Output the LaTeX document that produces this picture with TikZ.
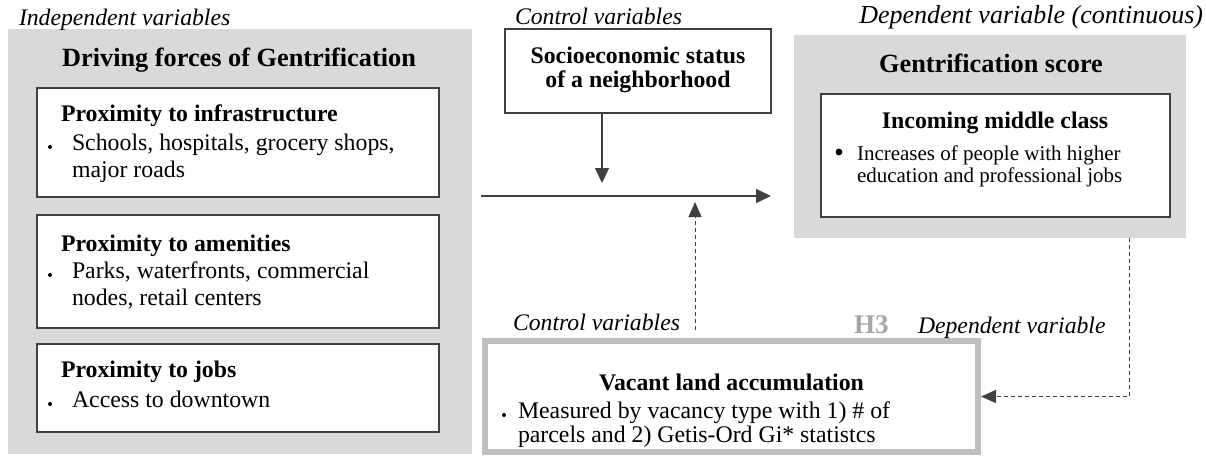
\documentclass[tikz,border=0pt]{standalone}
\usepackage{fontspec}
\setmainfont{Liberation Serif}
\usetikzlibrary{arrows.meta,calc}
\definecolor{panel}{HTML}{D9D9D9}
\definecolor{edge}{HTML}{404040}
\definecolor{frameg}{HTML}{BFBFBF}
\definecolor{hlabel}{HTML}{A6A6A6}
\begin{document}
\begin{tikzpicture}[x=1pt,y=-1pt,
  panelbox/.style={rectangle,fill=panel,draw=none,inner sep=0pt,outer sep=0pt},
  itembox/.style={rectangle,fill=white,draw=edge,line width=1.3pt,inner sep=0pt},
  vacbox/.style={rectangle,fill=white,draw=frameg,line width=6pt,inner sep=0pt},
  txt/.style={inner sep=0pt,outer sep=0pt},
  bigtitle/.style={txt,anchor=base,font=\fontsize{26.3}{30}\selectfont\bfseries},
  subhead/.style={txt,font=\fontsize{23.8}{27}\selectfont\bfseries},
  body/.style={txt,anchor=base west,font=\fontsize{23.8}{27}\selectfont},
  smallbody/.style={txt,anchor=base west,font=\fontsize{21}{22}\selectfont},
  varlabel/.style={txt,font=\fontsize{23.7}{27}\selectfont\itshape},
  conn/.style={draw=edge,line width=1.3pt,-{Triangle[length=15pt,width=14pt]}},
  dconn/.style={draw=edge,line width=1pt,dash pattern=on 4pt off 3pt,
    -{Triangle[length=15pt,width=13pt]}},
  dot/.style={fill=black}]
\useasboundingbox (0,0) rectangle (1206,456);

% --- independent variables panel
\node[panelbox,minimum width=464pt,minimum height=425pt] (drivers) at (240,241.5) {};
\node[varlabel,anchor=base west] (indep) at (19,25) {Independent variables};
\node[bigtitle] (driverstitle) at (239,66) {Driving forces of Gentrification};

\node[itembox,minimum width=402pt,minimum height=109pt] (infra) at (238,142.5) {};
\node[subhead,anchor=base west] (infrah) at (61,121) {Proximity to infrastructure};
\fill[dot] (50,147) circle (2pt);
\node[body] (infra1) at (72,150) {Schools, hospitals, grocery shops,};
\node[body] (infra2) at (72,177) {major roads};

\node[itembox,minimum width=402pt,minimum height=113pt] (amen) at (238,271.5) {};
\node[subhead,anchor=base west] (amenh) at (61,251) {Proximity to amenities};
\fill[dot] (50,275) circle (2pt);
\node[body] (amen1) at (72,278) {Parks, waterfronts, commercial};
\node[body] (amen2) at (72,305) {nodes, retail centers};

\node[itembox,minimum width=402pt,minimum height=88pt] (jobs) at (238,388) {};
\node[subhead,anchor=base west] (jobsh) at (61,377) {Proximity to jobs};
\fill[dot] (50,404) circle (2pt);
\node[body] (jobs1) at (72,407) {Access to downtown};

% --- control variable (top)
\node[varlabel,anchor=base west] (ctrltop) at (515,24) {Control variables};
\node[itembox,minimum width=266pt,minimum height=84pt] (socio) at (638,71) {};
\node[subhead,anchor=base] (socio1) at (638,63) {Socioeconomic status};
\node[subhead,anchor=base] (socio2) at (638,87) {of a neighborhood};

% --- dependent variable panel
\node[varlabel,anchor=base east,font=\fontsize{26}{30}\selectfont\itshape] (deptop) at (1203,23) {Dependent variable (continuous)};
\node[panelbox,minimum width=392pt,minimum height=203pt] (score) at (990,136.5) {};
\node[bigtitle] (scoretitle) at (991,72) {Gentrification score};
\node[itembox,minimum width=349pt,minimum height=123pt] (middle) at (995.5,155.5) {};
\node[subhead,anchor=base] (middleh) at (995,128) {Incoming middle class};
\fill[dot] (839,152) circle (3.4pt);
\node[smallbody] (middle1) at (857,160) {Increases of people with higher};
\node[smallbody] (middle2) at (857,182) {education and professional jobs};

% --- vacant land (H3)
\node[vacbox,minimum width=493pt,minimum height=111pt] (vacant) at (731.5,396.5) {};
\node[subhead,anchor=base] (vacanth) at (731.5,390) {Vacant land accumulation};
\fill[dot] (504,415) circle (2pt);
\node[body] (vacant1) at (518,418) {Measured by vacancy type with 1) \# of};
\node[body] (vacant2) at (518,442) {parcels and 2) Getis-Ord Gi* statistcs};
\node[varlabel,anchor=base west] (ctrlbot) at (513,330) {Control variables};
\node[txt,anchor=base west,text=hlabel,font=\fontsize{27}{30}\selectfont\bfseries] (hthree) at (854,333) {H3};
\node[varlabel,anchor=base west] (depbot) at (918,333) {Dependent variable};

% --- connectors
\coordinate (hL) at (481,196);
\coordinate (hR) at (771,196);
\draw[conn] (hL) -- (hR);
\coordinate (dnT) at (602,183);
\draw[conn] (socio.south -| dnT) -- (dnT);
\coordinate (upS) at (695,330);
\coordinate (upT) at (695,202);
\draw[dconn] (upS) -- (upT);
\coordinate (elbow) at (1129,300);
\draw[dconn] (score.south -| elbow) |- (vacant.east);
\end{tikzpicture}
\end{document}
